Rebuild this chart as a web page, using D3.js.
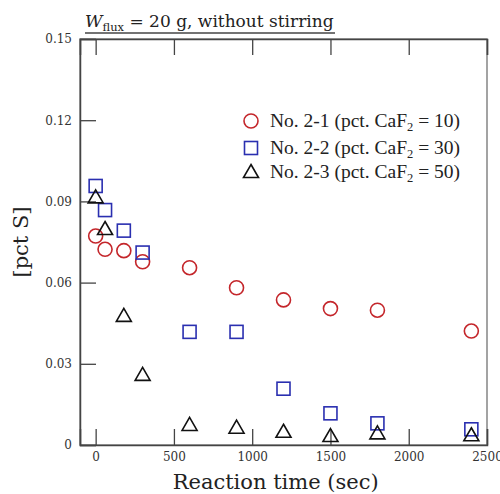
<!DOCTYPE html>
<html>
<head>
<meta charset="utf-8">
<script src="https://cdn.jsdelivr.net/npm/d3@7"></script>
<style>
  body { margin: 0; background: #fff; }
  text { font-family: "DejaVu Serif", "Liberation Serif", serif; }
</style>
</head>
<body>
<div id="chart"></div>
<script>
// reaction time (sec)
const times = [0, 60, 180, 300, 600, 900, 1200, 1500, 1800, 2400];
// pct S for each run
const run21 = [0.0772, 0.0723, 0.0718, 0.0677, 0.0655, 0.0581, 0.0536, 0.0504, 0.0498, 0.0421];
const run22 = [0.0957, 0.0868, 0.0792, 0.0711, 0.0418, 0.0418, 0.0208, 0.0117, 0.0080, 0.0058];
const run23 = [0.0915, 0.0798, 0.0477, 0.0259, 0.0074, 0.0064, 0.0049, 0.0033, 0.0043, 0.0036];
const xTicks = [0, 500, 1000, 1500, 2000, 2500];
const yTicks = [0, 0.03, 0.06, 0.09, 0.12, 0.15];
const seriesNames = ["No. 2-1", "No. 2-2", "No. 2-3"];
const caf2 = [10, 30, 50];

const colors = ["#c4262b", "#2a2fb0", "#111111"];
const shapes = ["circle", "square", "triangle"];

const margin = {top: 39, right: 13, bottom: 49, left: 80};
const width = 500 - margin.left - margin.right;
const height = 494 - margin.top - margin.bottom;

const svg = d3.select("#chart").append("svg")
    .attr("width", 500)
    .attr("height", 494);

const g = svg.append("g")
    .attr("transform", "translate(" + margin.left + "," + margin.top + ")");

const x = d3.scaleLinear().domain([-100, 2500]).range([0, width]);
const y = d3.scaleLinear().domain([0, 0.15]).range([height, 0]);

const axisColor = "#444";

// frame
g.append("rect")
    .attr("width", width).attr("height", height)
    .attr("fill", "none").attr("stroke", "#666").attr("stroke-width", 1.2);

// inward ticks bottom / top / left
const xAxis = d3.axisBottom(x).tickValues(xTicks).tickSize(-16).tickPadding(7)
    .tickFormat(d3.format("d"));
const gx = g.append("g").attr("transform", "translate(0," + height + ")").call(xAxis);
g.append("g").call(d3.axisTop(x).tickValues(xTicks).tickSize(-16).tickFormat(""));
const yAxis = d3.axisLeft(y).tickValues(yTicks).tickSize(-16).tickPadding(8)
    .tickFormat(d => d === 0 ? "0" : d3.format(".2f")(d));
const gy = g.append("g").call(yAxis);

g.selectAll(".domain").attr("stroke", axisColor).attr("stroke-width", 1.5);
g.selectAll(".tick line").attr("stroke", axisColor).attr("stroke-width", 1.3);
gx.selectAll("text").attr("font-size", 12).attr("fill", "#333")
    .style("font-family", "'DejaVu Serif'");
gy.selectAll("text").attr("font-size", 12).attr("fill", "#333")
    .style("font-family", "'DejaVu Serif'");

// axis labels
svg.append("text")
    .attr("x", margin.left + x(1150)).attr("y", 489)
    .attr("text-anchor", "middle")
    .attr("font-size", 21).attr("fill", "#222")
    .text("Reaction time (sec)");

svg.append("text")
    .attr("transform", "translate(28," + (margin.top + y(0.075)) + ") rotate(-90)")
    .attr("text-anchor", "middle")
    .attr("font-size", 21).attr("fill", "#222")
    .text("[pct S]");

// title
const title = svg.append("text")
    .attr("x", 85).attr("y", 27)
    .attr("font-size", 17).attr("fill", "#222");
title.append("tspan").attr("font-style", "italic").text("W");
title.append("tspan").attr("font-size", 11.5).attr("dy", 4).text("flux");
title.append("tspan").attr("dy", -4).text(" = 20 g, without stirring");
svg.append("line")
    .attr("x1", 85).attr("x2", 335).attr("y1", 33).attr("y2", 33)
    .attr("stroke", "#444").attr("stroke-width", 1.3);

// markers
function drawMarker(sel, shape, color) {
    if (shape === "circle") {
        sel.append("circle").attr("r", 7);
    } else if (shape === "square") {
        sel.append("rect").attr("x", -6.5).attr("y", -6.5).attr("width", 13).attr("height", 13);
    } else {
        sel.append("path").attr("d", "M0,-7.5L7.5,5.5L-7.5,5.5Z");
    }
    sel.selectAll("circle,rect,path")
        .attr("fill", "none").attr("stroke", color).attr("stroke-width", 1.6);
}

const allSeries = [run21, run22, run23];
allSeries.forEach(function (vals, i) {
    const pts = g.append("g").selectAll("g")
        .data(times.map((t, j) => [t, vals[j]]))
        .enter().append("g")
        .attr("transform", d => "translate(" + x(d[0]) + "," + y(d[1]) + ")");
    drawMarker(pts, shapes[i], colors[i]);
});

// legend
const legendY = [121, 148, 172];
seriesNames.forEach(function (name, i) {
    const lg = svg.append("g").attr("transform", "translate(251," + legendY[i] + ")");
    drawMarker(lg, shapes[i], colors[i]);
    const t = svg.append("text")
        .attr("x", 270).attr("y", legendY[i] + 6)
        .attr("font-size", 19.5).attr("fill", "#222")
        .style("font-family", "'Liberation Serif'");
    t.append("tspan").text(name + " (pct. CaF");
    t.append("tspan").attr("font-size", 12.5).attr("dy", 4).text("2");
    t.append("tspan").attr("dy", -4).text(" = " + caf2[i] + ")");
});
</script>
</body>
</html>
